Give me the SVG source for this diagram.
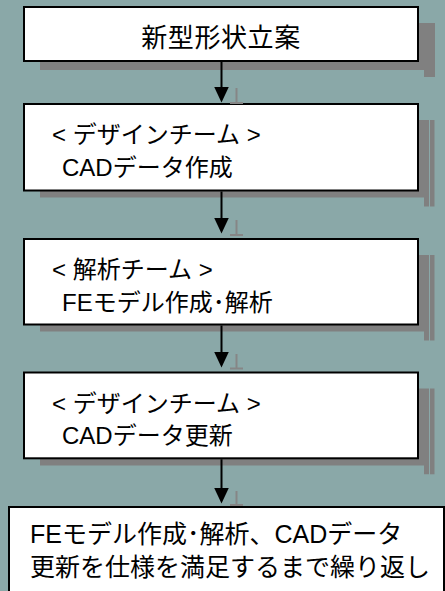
<svg xmlns="http://www.w3.org/2000/svg" width="445" height="591" viewBox="0 0 445 591">
<style>
.bg{fill:#8aa8a8}
.box{fill:#ffffff;stroke:#000000;stroke-width:2}
.sh{fill:#808080}
.t{font-family:"Liberation Sans","Noto Sans CJK JP",sans-serif;fill:#000000}
.t24{font-size:24px}
.t25{font-size:25px}
.t26{font-size:26px;letter-spacing:0.6px}
.con{stroke:#000000;stroke-width:2;fill:none}
.tick{stroke:#868686;stroke-width:2;fill:none}
</style>
<defs>
<marker id="ah" markerUnits="userSpaceOnUse" viewBox="0 0 16 15" markerWidth="16" markerHeight="15" refX="0.5" refY="7.5" orient="auto">
<path d="M0,0 L16,7.5 L0,15 Z" fill="#000000"/>
</marker>
</defs>
<rect class="bg" x="0" y="0" width="445" height="591"/>

<g id="node1">
<path class="sh" d="M40,61 H418 V23 H429 V77 H424 V70 H40 Z"/>
<rect class="sh" x="429" y="23" width="6" height="54"/>
<rect class="box" x="24" y="7" width="394" height="54"/>
<text class="t t26" x="221" y="46.5" text-anchor="middle">新型形状立案</text>
</g>

<g id="node2">
<path class="sh" d="M40,190.5 H418 V120 H429 V206.5 H424 V197.5 H40 Z"/>
<rect class="sh" x="430" y="120" width="4.5" height="86.5"/>
<rect class="box" x="24" y="104" width="394" height="86.5"/>
<text class="t t24" x="52" y="143">&lt; デザインチーム &gt;</text>
<text class="t t24" x="62" y="176">CADデータ作成</text>
</g>

<g id="node3">
<path class="sh" d="M40,324.5 H418 V255 H429 V340.5 H424 V331.5 H40 Z"/>
<rect class="sh" x="430" y="255" width="4.5" height="85.5"/>
<rect class="box" x="24" y="239" width="394" height="85.5"/>
<text class="t t24" x="52" y="278">&lt; 解析チーム &gt;</text>
<text class="t t24" x="62" y="311">FEモデル作成･解析</text>
</g>

<g id="node4">
<path class="sh" d="M40,458.3 H418 V388.5 H429 V474.3 H424 V465.5 H40 Z"/>
<rect class="sh" x="430" y="388.5" width="4.5" height="85.8"/>
<rect class="box" x="24" y="372.5" width="394" height="85.8"/>
<text class="t t24" x="52" y="411.5">&lt; デザインチーム &gt;</text>
<text class="t t24" x="62" y="444">CADデータ更新</text>
</g>

<g id="node5">
<rect class="box" x="9" y="507" width="435" height="100"/>
<text class="t t25" x="30" y="543">FEモデル作成･解析、CADデータ</text>
<text class="t t25" x="30" y="576">更新を仕様を満足するまで繰り返し</text>
</g>

<g id="connectors">
<path class="con" d="M221.5,62 V87" marker-end="url(#ah)"/>
<path class="con" d="M221.5,191.5 V218" marker-end="url(#ah)"/>
<path class="con" d="M221.5,325.5 V352" marker-end="url(#ah)"/>
<path class="con" d="M221.5,459.3 V488" marker-end="url(#ah)"/>
<path class="tick" d="M236.5,88 V103 M230,103 H243"/>
<path class="tick" d="M236.5,220 V235 M230,235 H243"/>
<path class="tick" d="M236.5,354 V368.5 M230,368.5 H243"/>
<path class="tick" d="M236.5,491 V505 M230,505 H243"/>
</g>
</svg>
